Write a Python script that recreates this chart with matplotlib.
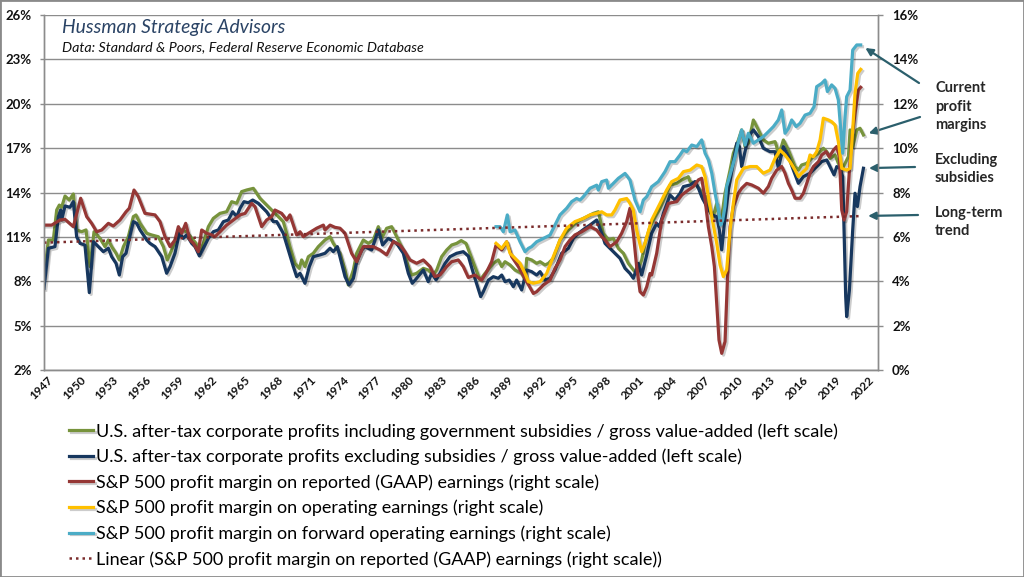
import matplotlib
matplotlib.use('Agg')
import matplotlib.pyplot as plt
import matplotlib.patheffects as pe
import matplotlib.transforms as mtransforms
from matplotlib.patches import Rectangle

plt.rcParams['font.family'] = ['Lato', 'DejaVu Sans']

# ---------------- data ----------------
green_years = [1947.00, 1947.40, 1947.85, 1948.16, 1948.40, 1948.61, 1948.92, 1949.31, 1949.68, 1949.98,
               1950.44, 1950.84, 1951.20, 1951.57, 1952.11, 1952.57, 1952.88, 1953.18, 1953.58, 1953.88,
               1954.25, 1954.70, 1955.16, 1955.40, 1955.77, 1956.38, 1956.83, 1957.44, 1957.90, 1958.26,
               1958.66, 1959.18, 1959.57, 1960.03, 1960.49, 1960.88, 1961.19, 1961.55, 1962.01, 1962.46,
               1963.07, 1963.68, 1964.14, 1964.60, 1965.05, 1965.51, 1966.12, 1966.72, 1967.33, 1967.94,
               1968.40, 1968.85, 1969.16, 1969.46, 1969.92, 1970.31, 1970.53, 1970.83, 1971.14, 1971.59,
               1972.05, 1972.66, 1973.12, 1973.42, 1974.03, 1974.49, 1974.79, 1975.25, 1975.55, 1976.16,
               1976.62, 1977.07, 1977.53, 1977.83, 1978.29, 1978.75, 1979.36, 1979.81, 1980.27, 1980.57,
               1981.03, 1981.64, 1982.09, 1982.55, 1982.86, 1983.31, 1983.77, 1984.23, 1984.68, 1985.10,
               1985.54, 1986.06, 1986.82, 1987.27, 1988.03, 1988.49, 1988.80, 1989.10, 1989.56, 1990.01,
               1990.62, 1990.93, 1991.08, 1991.53, 1991.99, 1992.30, 1992.75, 1993.06, 1993.51, 1994.12,
               1994.73, 1995.34, 1995.95, 1996.56, 1997.17, 1997.62, 1998.08, 1998.54, 1998.99, 1999.45,
               1999.91, 2000.36, 2000.82, 2001.12, 2001.58, 2001.88, 2002.34, 2002.80, 2003.25, 2003.71,
               2004.17, 2004.78, 2005.24, 2005.84, 2006.00, 2006.45, 2006.91, 2007.21, 2007.52, 2007.82,
               2008.13, 2008.43, 2008.74, 2008.89, 2009.19, 2009.65, 2009.95, 2010.41, 2010.71, 2011.02,
               2011.32, 2011.78, 2012.24, 2012.69, 2013.15, 2013.76, 2013.91, 2014.06, 2014.52, 2014.98,
               2015.59, 2015.89, 2016.19, 2016.65, 2017.26, 2017.72, 2018.17, 2018.48, 2018.78, 2019.24,
               2019.54, 2019.85, 2020.15, 2020.46, 2020.61, 2020.85, 2021.22, 2021.52, 2021.83]
green_vals = [8.31, 10.79, 10.79, 12.82, 13.15, 13.00, 13.76, 13.49, 13.90, 11.47,
              11.35, 11.47, 8.99, 11.35, 10.90, 10.34, 10.79, 10.34, 9.89, 9.44,
              10.34, 11.01, 12.37, 12.48, 11.92, 11.24, 11.13, 11.01, 10.34, 9.44,
              10.11, 11.24, 11.47, 11.35, 10.90, 10.56, 9.89, 10.56, 11.69, 12.25,
              12.59, 12.70, 13.38, 13.27, 14.06, 14.17, 14.28, 13.61, 13.15, 12.70,
              12.37, 12.03, 11.24, 10.34, 9.21, 8.87, 9.44, 8.99, 9.66, 9.89,
              10.34, 10.79, 11.01, 10.56, 9.89, 8.76, 7.75, 8.76, 9.89, 10.79,
              10.56, 10.79, 11.69, 10.90, 11.58, 11.69, 10.79, 10.11, 8.99, 8.42,
              8.54, 8.87, 8.76, 8.42, 8.76, 9.66, 10.11, 10.45, 10.56, 10.75,
              10.56, 9.55, 8.08, 8.53, 9.21, 9.44, 8.99, 9.32, 9.10, 8.76,
              8.53, 8.08, 9.55, 9.44, 9.21, 9.32, 9.10, 9.21, 9.55, 10.79,
              11.35, 11.80, 12.14, 12.36, 12.59, 12.70, 11.24, 10.79, 10.90, 10.22,
              9.89, 9.21, 8.76, 8.53, 9.44, 10.56, 11.69, 12.36, 12.93, 13.72,
              14.50, 14.62, 14.85, 15.07, 14.74, 14.62, 14.17, 13.50, 13.72, 12.82,
              12.37, 13.27, 11.92, 12.37, 13.95, 15.52, 16.65, 17.55, 18.23, 17.10,
              17.33, 18.90, 18.23, 17.55, 17.33, 17.44, 17.10, 16.43, 17.55, 16.87,
              15.75, 15.52, 15.86, 15.97, 16.43, 16.65, 16.99, 16.76, 16.31, 16.54,
              15.97, 15.52, 15.97, 16.43, 18.23, 17.10, 18.23, 18.34, 17.89]

navy_years = [1947.00, 1947.40, 1948.00, 1948.31, 1948.52, 1948.61, 1948.92, 1949.37, 1949.68, 1949.98,
              1950.29, 1950.74, 1951.14, 1951.51, 1951.96, 1952.42, 1952.88, 1953.18, 1953.58, 1953.88,
              1954.18, 1954.49, 1954.79, 1955.16, 1955.46, 1955.77, 1956.38, 1956.68, 1957.14, 1957.75,
              1958.20, 1958.51, 1958.96, 1959.36, 1959.72, 1960.03, 1960.49, 1960.79, 1961.19, 1961.55,
              1962.01, 1962.46, 1962.92, 1963.38, 1963.83, 1964.23, 1964.60, 1964.90, 1965.26, 1965.66,
              1966.06, 1966.57, 1967.33, 1967.94, 1968.25, 1968.85, 1969.31, 1969.77, 1970.07, 1970.38,
              1970.83, 1971.23, 1971.59, 1972.20, 1972.66, 1973.12, 1973.42, 1973.79, 1974.18, 1974.49,
              1974.85, 1975.25, 1975.55, 1976.01, 1976.31, 1976.92, 1977.53, 1977.92, 1978.44, 1979.20,
              1979.81, 1980.27, 1980.63, 1981.03, 1981.64, 1982.09, 1982.40, 1982.80, 1983.16, 1983.62,
              1984.07, 1984.68, 1985.29, 1985.75, 1986.21, 1986.88, 1987.12, 1987.58, 1988.03, 1988.49,
              1988.80, 1989.10, 1989.49, 1989.86, 1990.16, 1990.62, 1991.08, 1991.53, 1991.99, 1992.30,
              1992.75, 1993.21, 1993.66, 1994.27, 1994.88, 1995.34, 1995.80, 1996.41, 1996.86, 1997.47,
              1997.93, 1998.23, 1998.69, 1999.14, 1999.60, 2000.06, 2000.51, 2000.82, 2001.27, 2001.58,
              2002.04, 2002.49, 2002.95, 2003.19, 2003.56, 2004.17, 2004.62, 2005.08, 2005.39, 2006.00,
              2006.45, 2006.76, 2007.06, 2007.52, 2007.98, 2008.43, 2008.67, 2008.89, 2009.10, 2009.50,
              2009.95, 2010.26, 2010.50, 2010.71, 2011.32, 2011.78, 2012.24, 2012.69, 2013.30, 2013.76,
              2014.06, 2014.52, 2014.98, 2015.43, 2015.89, 2016.35, 2016.95, 2017.56, 2018.02, 2018.48,
              2018.78, 2019.15, 2019.39, 2019.69, 2019.94, 2020.06, 2020.21, 2020.30, 2020.55, 2020.85,
              2021.06, 2021.28, 2021.52, 2021.83]
navy_vals = [7.52, 10.23, 10.34, 12.37, 12.82, 12.14, 13.09, 13.00, 13.38, 11.01,
             10.56, 10.45, 7.23, 10.68, 10.34, 10.00, 10.23, 9.66, 9.21, 8.42,
             9.66, 9.89, 10.90, 12.03, 11.92, 11.47, 10.79, 10.56, 10.34, 9.66,
             8.54, 8.99, 9.89, 11.24, 10.90, 11.13, 10.56, 10.34, 9.71, 10.23,
             10.90, 11.35, 11.47, 12.03, 12.14, 12.70, 12.37, 12.93, 13.38, 13.31,
             13.49, 13.27, 12.70, 12.03, 12.03, 11.24, 10.11, 8.99, 8.31, 8.54,
             7.86, 8.99, 9.66, 9.78, 9.89, 10.23, 10.00, 10.34, 9.21, 8.31,
             7.75, 8.20, 9.32, 10.11, 10.34, 10.11, 11.47, 10.45, 10.90, 10.56,
             9.89, 8.54, 7.86, 8.20, 8.76, 7.97, 8.54, 8.09, 8.54, 9.21,
             9.66, 9.89, 10.00, 9.70, 8.53, 6.96, 7.30, 8.08, 8.31, 8.20,
             8.42, 7.97, 8.08, 7.63, 8.08, 7.41, 8.76, 8.65, 8.42, 8.65,
             8.08, 8.20, 8.76, 9.89, 10.22, 10.90, 11.24, 11.58, 11.80, 12.14,
             11.24, 10.56, 10.22, 9.89, 9.55, 8.87, 8.53, 8.20, 9.21, 8.42,
             9.77, 11.24, 11.91, 11.69, 12.59, 13.83, 13.49, 13.94, 14.40, 14.51,
             14.74, 14.29, 13.72, 13.05, 12.48, 12.37, 11.47, 10.12, 11.69, 14.17,
             16.09, 17.33, 17.10, 15.75, 17.78, 18.23, 17.78, 16.99, 16.76, 16.76,
             15.64, 17.10, 16.43, 15.52, 14.62, 15.07, 15.30, 15.75, 16.09, 16.20,
             15.75, 15.19, 15.75, 15.64, 15.07, 11.47, 6.96, 5.61, 7.41, 11.47,
             13.95, 13.05, 14.40, 15.64]

gaap_years = [1947.00, 1947.70, 1948.46, 1948.92, 1949.68, 1950.35, 1950.90, 1951.35, 1951.81, 1952.27,
              1952.88, 1953.33, 1953.94, 1954.49, 1954.79, 1955.22, 1955.61, 1956.22, 1957.14, 1957.59,
              1958.05, 1958.51, 1958.96, 1959.27, 1959.57, 1959.94, 1960.33, 1960.64, 1961.09, 1961.40,
              1961.86, 1962.31, 1962.62, 1963.07, 1963.68, 1964.29, 1964.90, 1965.36, 1965.96, 1966.27,
              1966.88, 1967.33, 1967.79, 1968.09, 1968.70, 1969.16, 1969.46, 1970.07, 1970.38, 1970.68,
              1971.14, 1971.90, 1972.51, 1972.66, 1973.12, 1973.57, 1974.03, 1974.49, 1975.09, 1975.55,
              1976.16, 1977.07, 1977.68, 1978.29, 1978.90, 1979.51, 1979.96, 1980.42, 1981.03, 1981.64,
              1982.25, 1982.70, 1983.16, 1983.77, 1984.23, 1984.83, 1985.29, 1985.75, 1986.36, 1986.97,
              1987.43, 1987.88, 1988.28, 1988.79, 1989.25, 1989.71, 1990.32, 1991.08, 1991.69, 1991.99,
              1992.60, 1993.21, 1993.66, 1994.12, 1994.58, 1995.03, 1995.49, 1996.10, 1996.86, 1997.47,
              1997.93, 1998.23, 1998.69, 1999.30, 1999.75, 2000.21, 2000.51, 2000.82, 2001.12, 2001.43,
              2001.73, 2002.04, 2002.34, 2002.49, 2002.95, 2003.41, 2004.02, 2004.78, 2005.24, 2005.84,
              2006.30, 2006.76, 2007.06, 2007.37, 2007.67, 2007.98, 2008.22, 2008.43, 2008.64, 2008.89,
              2009.19, 2009.41, 2009.65, 2009.95, 2010.41, 2010.71, 2011.17, 2011.63, 2012.24, 2012.69,
              2013.15, 2013.45, 2013.91, 2014.37, 2014.67, 2014.98, 2015.28, 2015.59, 2016.04, 2016.35,
              2016.65, 2016.95, 2017.26, 2017.72, 2018.02, 2018.42, 2018.72, 2019.09, 2019.39, 2019.63,
              2019.85, 2020.06, 2020.30, 2020.55, 2020.76, 2021.06, 2021.37, 2021.58]
gaap_vals = [6.53, 6.53, 6.76, 6.79, 6.46, 7.74, 6.91, 6.61, 6.23, 6.31,
             6.61, 6.49, 6.76, 7.13, 7.29, 8.11, 7.81, 7.06, 6.99, 6.69,
             6.01, 5.56, 5.86, 6.46, 6.16, 6.61, 5.86, 5.71, 5.33, 6.31,
             6.16, 6.09, 6.01, 6.23, 6.53, 6.76, 6.99, 7.06, 7.51, 7.36,
             6.46, 6.76, 6.91, 7.21, 7.06, 6.76, 6.99, 6.09, 6.23, 6.01,
             6.16, 6.39, 6.53, 6.31, 6.53, 6.43, 6.39, 6.16, 5.26, 4.88,
             5.56, 5.56, 5.41, 5.19, 5.79, 5.63, 5.33, 4.96, 4.81, 4.96,
             4.66, 4.21, 4.28, 4.66, 4.88, 4.96, 4.66, 4.17, 4.28, 4.05,
             4.43, 4.88, 5.63, 5.41, 5.78, 5.11, 4.66, 3.98, 3.45, 3.53,
             3.83, 4.05, 4.58, 4.96, 5.56, 5.86, 6.09, 6.23, 6.46, 6.31,
             6.01, 5.86, 5.56, 5.78, 6.16, 6.69, 7.29, 6.16, 4.66, 3.53,
             3.38, 3.75, 4.35, 4.28, 5.26, 6.76, 7.51, 7.59, 7.89, 8.11,
             8.27, 8.57, 8.64, 7.67, 6.46, 5.56, 4.66, 3.01, 1.35, 0.75,
             1.28, 4.06, 6.46, 7.37, 7.97, 8.19, 8.41, 8.34, 8.19, 7.97,
             8.27, 8.64, 9.01, 9.17, 8.87, 8.41, 8.11, 7.74, 7.74, 7.97,
             8.41, 8.87, 9.17, 9.39, 9.69, 9.84, 9.61, 9.91, 10.07, 9.61,
             7.21, 6.76, 7.14, 9.01, 10.37, 11.57, 12.62, 12.74]

oper_years = [1988.28, 1988.79, 1989.25, 1989.56, 1990.16, 1990.47, 1990.93, 1991.23, 1991.69, 1992.30,
              1992.90, 1993.51, 1994.12, 1994.73, 1995.49, 1996.25, 1996.86, 1997.47, 1997.93, 1998.38,
              1998.84, 1999.14, 1999.60, 2000.21, 2000.51, 2000.82, 2001.12, 2001.58, 2001.88, 2002.49,
              2002.95, 2003.41, 2003.86, 2004.32, 2004.93, 2005.39, 2006.00, 2006.61, 2007.06, 2007.37,
              2007.67, 2007.98, 2008.43, 2008.74, 2009.04, 2009.34, 2009.65, 2009.95, 2010.26, 2010.87,
              2011.48, 2012.08, 2012.69, 2013.30, 2013.76, 2014.22, 2014.67, 2015.13, 2015.59, 2015.89,
              2016.19, 2016.65, 2016.95, 2017.26, 2017.56, 2017.87, 2018.17, 2018.63, 2018.93, 2019.24,
              2019.54, 2019.85, 2020.30, 2020.61, 2020.85, 2021.06, 2021.31, 2021.58]
oper_vals = [5.71, 5.48, 5.78, 5.26, 4.96, 4.81, 4.35, 3.98, 3.91, 3.98,
             4.35, 5.11, 5.86, 6.39, 6.69, 6.83, 6.99, 7.06, 7.13, 6.99,
             6.99, 7.21, 7.66, 7.73, 7.51, 7.21, 6.31, 5.33, 5.71, 6.76,
             7.21, 7.66, 8.11, 8.49, 8.64, 8.94, 9.01, 9.24, 9.17, 8.71,
             7.81, 6.91, 5.71, 4.73, 4.21, 4.51, 6.31, 7.51, 8.57, 9.09,
             9.17, 9.17, 8.87, 9.01, 9.54, 9.91, 9.69, 9.39, 9.01, 8.71,
             8.87, 9.09, 9.69, 9.61, 9.84, 10.37, 11.35, 11.27, 11.19, 11.04,
             10.29, 9.09, 9.01, 9.09, 10.82, 12.47, 13.37, 13.55]

fwd_years = [1988.28, 1988.64, 1988.95, 1989.31, 1989.56, 1990.01, 1990.47, 1990.93, 1991.23, 1991.53,
             1991.99, 1992.60, 1993.21, 1993.66, 1994.12, 1994.73, 1995.19, 1995.64, 1995.95, 1996.25,
             1996.86, 1997.47, 1997.62, 1997.93, 1998.38, 1998.54, 1998.99, 1999.45, 2000.06, 2000.51,
             2000.97, 2001.43, 2001.73, 2002.04, 2002.49, 2003.10, 2003.71, 2004.17, 2004.62, 2005.08,
             2005.39, 2005.69, 2006.15, 2006.61, 2007.06, 2007.37, 2007.67, 2007.98, 2008.28, 2008.58,
             2008.80, 2008.98, 2009.19, 2009.34, 2009.65, 2010.11, 2010.41, 2010.71, 2011.02, 2011.32,
             2011.78, 2012.24, 2012.69, 2013.15, 2013.61, 2014.06, 2014.37, 2014.67, 2014.98, 2015.28,
             2015.68, 2016.04, 2016.50, 2016.95, 2017.32, 2017.56, 2018.02, 2018.32, 2018.54, 2018.93,
             2019.24, 2019.54, 2019.76, 2019.94, 2020.15, 2020.30, 2020.61, 2020.85, 2021.22, 2021.58]
fwd_vals = [6.46, 6.46, 6.23, 6.99, 6.23, 6.31, 5.78, 5.33, 5.48, 5.56,
            5.78, 5.93, 6.08, 6.53, 6.99, 7.29, 7.59, 7.73, 7.66, 7.81,
            8.19, 8.33, 8.11, 8.49, 8.56, 8.19, 8.41, 8.64, 8.86, 8.56,
            7.66, 7.13, 7.66, 7.81, 8.26, 8.49, 8.94, 9.39, 9.39, 9.69,
            9.92, 9.84, 10.14, 10.07, 10.37, 9.77, 9.47, 8.87, 7.97, 7.21,
            6.53, 6.76, 7.37, 8.27, 8.79, 9.61, 10.29, 10.82, 10.14, 10.67,
            10.22, 10.37, 10.52, 10.74, 10.97, 11.27, 11.72, 10.67, 10.89, 11.27,
            10.97, 11.12, 11.49, 11.57, 11.87, 12.77, 12.92, 13.07, 12.55, 12.85,
            12.69, 12.17, 10.82, 9.77, 11.42, 12.32, 12.62, 14.42, 14.65, 14.65]

trend_years = [1947.0, 2021.75]
trend_vals = [5.74, 6.94]

left_ticks = [2, 5, 8, 11, 14, 17, 20, 23, 26]
right_ticks = [0, 2, 4, 6, 8, 10, 12, 14, 16]
x_ticks = list(range(1947, 2023, 3))

labels = [
    "U.S. after-tax corporate profits including government subsidies / gross value-added (left scale)",
    "U.S. after-tax corporate profits excluding subsidies / gross value-added (left scale)",
    "S&P 500 profit margin on reported (GAAP) earnings (right scale)",
    "S&P 500 profit margin on operating earnings (right scale)",
    "S&P 500 profit margin on forward operating earnings (right scale)",
    "Linear (S&P 500 profit margin on reported (GAAP) earnings (right scale))",
]
colors = ['#77933C', '#17375E', '#953735', '#FFC000', '#4BACC6', '#7B2C2C']

# ---------------- figure ----------------
W, H = 1024, 577
fig = plt.figure(figsize=(W / 100, H / 100), dpi=100)


def fx(px):
    return px / W


def fy(py):
    return 1 - py / H


ax = fig.add_axes([fx(44), fy(370), fx(878) - fx(44), fy(15) - fy(370)])
ax2 = ax.twinx()

grid_c = '#8C8C8C'
shadow = [pe.SimpleLineShadow(offset=(1.3, -1.3), shadow_color='black', alpha=0.2), pe.Normal()]
lw = 2.3

l1, = ax.plot(green_years, green_vals, color=colors[0], lw=lw, path_effects=shadow, solid_joinstyle='round')
l2, = ax.plot(navy_years, navy_vals, color=colors[1], lw=lw, path_effects=shadow, solid_joinstyle='round')
l3, = ax2.plot(gaap_years, gaap_vals, color=colors[2], lw=lw, path_effects=shadow, solid_joinstyle='round')
l4, = ax2.plot(oper_years, oper_vals, color=colors[3], lw=lw, path_effects=shadow, solid_joinstyle='round')
l5, = ax2.plot(fwd_years, fwd_vals, color=colors[4], lw=lw, path_effects=shadow, solid_joinstyle='round')
l6, = ax2.plot(trend_years, trend_vals, color=colors[5], lw=1.8, linestyle=(0, (1, 1.6)))

ax.set_xlim(1947, 2023.16)
ax.set_ylim(2, 26)
ax2.set_ylim(0, 16)

ax.set_yticks(left_ticks)
ax.set_yticklabels([f"{v}%" for v in left_ticks])
ax2.set_yticks(right_ticks)
ax2.set_yticklabels([f"{v}%" for v in right_ticks])
ax.set_xticks(x_ticks)
ax.set_xticklabels([str(y) for y in x_ticks], rotation=45, ha='right', va='top',
                   rotation_mode='anchor')

ax.yaxis.grid(True, color=grid_c, lw=1.0)
ax.set_axisbelow(True)

for a in (ax, ax2):
    a.spines['top'].set_visible(False)
    for s in ('left', 'right', 'bottom'):
        a.spines[s].set_color(grid_c)
        a.spines[s].set_linewidth(1.0)

ax.tick_params(axis='y', length=3, color=grid_c, width=1.0, pad=6, labelsize=9.5)
ax2.tick_params(axis='y', length=3.6, color=grid_c, width=1.0, pad=6.5, labelsize=9.5)
ax.tick_params(axis='x', length=0, pad=3, labelsize=8.5)
for lbl in ax.get_yticklabels() + ax2.get_yticklabels() + ax.get_xticklabels():
    lbl.set_fontweight('bold')
    lbl.set_color('#111111')
off = mtransforms.ScaledTranslation(0.03, 0, fig.dpi_scale_trans)
for lbl in ax.get_xticklabels():
    lbl.set_transform(lbl.get_transform() + off)

# titles
fig.text(fx(62), fy(27), "Hussman Strategic Advisors", fontsize=13.9, style='italic',
         color='#2A4365', va='center', ha='left')
fig.text(fx(62), fy(47), "Data: Standard & Poors, Federal Reserve Economic Database", fontsize=10.3,
         style='italic', color='#111111', va='center', ha='left')

# annotations
ann_c = '#2B5F6C'
txt_kw = dict(fontsize=10.5, fontweight='bold', color='#262626', va='center', ha='left')
for t, yy in [("Current", 88), ("profit", 107), ("margins", 125), ("Excluding", 160),
              ("subsidies", 178), ("Long-term", 213), ("trend", 231)]:
    fig.text(fx(935), fy(yy), t, **txt_kw)

arrow_kw = dict(arrowstyle='-|>', color=ann_c, lw=1.6, shrinkA=0, shrinkB=4, mutation_scale=11)
ax2.annotate('', xy=(fwd_years[-1], fwd_vals[-1]), xytext=(fx(919), fy(83)),
             textcoords='figure fraction', arrowprops=arrow_kw)
ax.annotate('', xy=(green_years[-1], green_vals[-1]), xytext=(fx(920), fy(117)),
            textcoords='figure fraction', arrowprops=arrow_kw)
ax.annotate('', xy=(navy_years[-1], navy_vals[-1]), xytext=(fx(915), fy(167)),
            textcoords='figure fraction', arrowprops=arrow_kw)
ax2.annotate('', xy=(trend_years[-1], trend_vals[-1]), xytext=(fx(918), fy(215)),
             textcoords='figure fraction', arrowprops=arrow_kw)

# legend
handles = [l1, l2, l3, l4, l5, l6]
fig.legend(handles, labels, loc='upper left', bbox_to_anchor=(fx(69), fy(423)), frameon=False,
           fontsize=13.0, handlelength=1.32, handletextpad=0.18, labelspacing=0.5,
           borderaxespad=0, borderpad=0)

fig.add_artist(Rectangle((0, 0), 1, 1, transform=fig.transFigure, fill=False,
                         edgecolor='#8A8A8A', lw=2))

fig.savefig('out.png', dpi=100)
